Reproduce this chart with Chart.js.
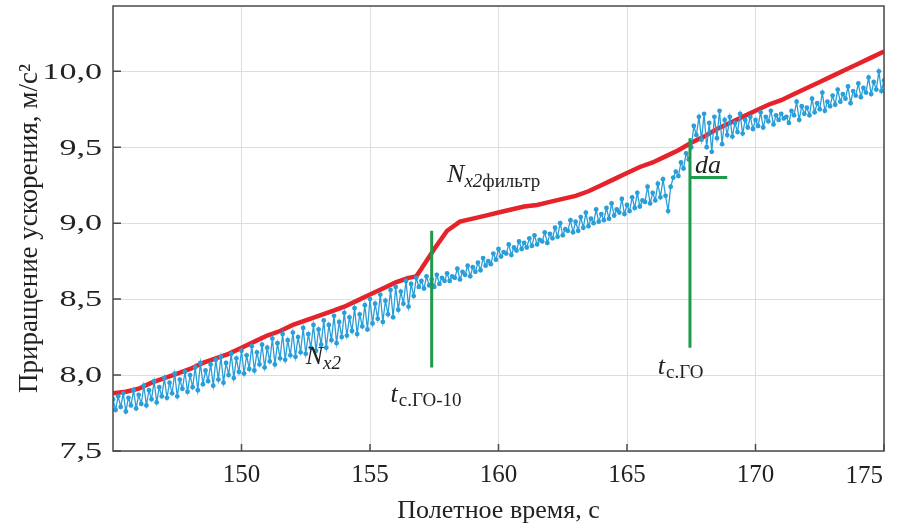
<!DOCTYPE html>
<html>
<head>
<meta charset="utf-8">
<script src="https://cdn.jsdelivr.net/npm/chart.js@4.4.1/dist/chart.umd.min.js"></script>
<style>
  html, body { margin: 0; padding: 0; background: #fff; }
</style>
</head>
<body>
<canvas id="chart" width="898" height="528"></canvas>
<script>
const fontFamily = "'Liberation Serif', 'Times New Roman', serif"

// filtered signal N_x2 фильтр
const filterTime = [
    145.0, 145.5, 146.0, 146.5, 147.0, 147.5, 148.0, 148.5, 149.0, 149.5,
    150.0, 150.5, 151.0, 151.5, 152.0, 152.5, 153.0, 153.5, 154.0, 154.5,
    155.0, 155.5, 156.0, 156.5, 156.8, 157.0, 157.5, 158.0, 158.5, 159.0,
    159.5, 160.0, 160.5, 161.0, 161.5, 162.0, 162.5, 163.0, 163.5, 164.0,
    164.5, 165.0, 165.5, 166.0, 166.5, 167.0, 167.5, 168.0, 168.5, 169.0,
    169.5, 170.0, 170.5, 171.0, 171.5, 172.0, 172.5, 173.0, 173.5, 174.0,
    174.5, 175.0
]
const filterValue = [
    7.88, 7.89, 7.91, 7.95, 7.98, 8.01, 8.04, 8.08, 8.11, 8.14,
    8.18, 8.22, 8.26, 8.29, 8.33, 8.36, 8.39, 8.42, 8.45, 8.49,
    8.53, 8.57, 8.61, 8.64, 8.65, 8.70, 8.83, 8.95, 9.01, 9.03,
    9.05, 9.07, 9.09, 9.11, 9.12, 9.14, 9.16, 9.18, 9.21, 9.25,
    9.29, 9.33, 9.37, 9.40, 9.44, 9.48, 9.53, 9.57, 9.62, 9.66,
    9.70, 9.74, 9.78, 9.81, 9.85, 9.89, 9.93, 9.97, 10.01, 10.05,
    10.09, 10.13
]

// raw signal N_x2, one row per second
const rawTime = [
    145.0, 145.1, 145.2, 145.3, 145.4, 145.5, 145.6, 145.7, 145.8, 145.9,
    146.0, 146.1, 146.2, 146.3, 146.4, 146.5, 146.6, 146.7, 146.8, 146.9,
    147.0, 147.1, 147.2, 147.3, 147.4, 147.5, 147.6, 147.7, 147.8, 147.9,
    148.0, 148.1, 148.2, 148.3, 148.4, 148.5, 148.6, 148.7, 148.8, 148.9,
    149.0, 149.1, 149.2, 149.3, 149.4, 149.5, 149.6, 149.7, 149.8, 149.9,
    150.0, 150.1, 150.2, 150.3, 150.4, 150.5, 150.6, 150.7, 150.8, 150.9,
    151.0, 151.1, 151.2, 151.3, 151.4, 151.5, 151.6, 151.7, 151.8, 151.9,
    152.0, 152.1, 152.2, 152.3, 152.4, 152.5, 152.6, 152.7, 152.8, 152.9,
    153.0, 153.1, 153.2, 153.3, 153.4, 153.5, 153.6, 153.7, 153.8, 153.9,
    154.0, 154.1, 154.2, 154.3, 154.4, 154.5, 154.6, 154.7, 154.8, 154.9,
    155.0, 155.1, 155.2, 155.3, 155.4, 155.5, 155.6, 155.7, 155.8, 155.9,
    156.0, 156.1, 156.2, 156.3, 156.4, 156.5, 156.6, 156.7, 156.8, 156.9,
    157.0, 157.1, 157.2, 157.3, 157.4, 157.5, 157.6, 157.7, 157.8, 157.9,
    158.0, 158.1, 158.2, 158.3, 158.4, 158.5, 158.6, 158.7, 158.8, 158.9,
    159.0, 159.1, 159.2, 159.3, 159.4, 159.5, 159.6, 159.7, 159.8, 159.9,
    160.0, 160.1, 160.2, 160.3, 160.4, 160.5, 160.6, 160.7, 160.8, 160.9,
    161.0, 161.1, 161.2, 161.3, 161.4, 161.5, 161.6, 161.7, 161.8, 161.9,
    162.0, 162.1, 162.2, 162.3, 162.4, 162.5, 162.6, 162.7, 162.8, 162.9,
    163.0, 163.1, 163.2, 163.3, 163.4, 163.5, 163.6, 163.7, 163.8, 163.9,
    164.0, 164.1, 164.2, 164.3, 164.4, 164.5, 164.6, 164.7, 164.8, 164.9,
    165.0, 165.1, 165.2, 165.3, 165.4, 165.5, 165.6, 165.7, 165.8, 165.9,
    166.0, 166.1, 166.2, 166.3, 166.4, 166.5, 166.6, 166.7, 166.8, 166.9,
    167.0, 167.1, 167.2, 167.3, 167.4, 167.5, 167.6, 167.7, 167.8, 167.9,
    168.0, 168.1, 168.2, 168.3, 168.4, 168.5, 168.6, 168.7, 168.8, 168.9,
    169.0, 169.1, 169.2, 169.3, 169.4, 169.5, 169.6, 169.7, 169.8, 169.9,
    170.0, 170.1, 170.2, 170.3, 170.4, 170.5, 170.6, 170.7, 170.8, 170.9,
    171.0, 171.1, 171.2, 171.3, 171.4, 171.5, 171.6, 171.7, 171.8, 171.9,
    172.0, 172.1, 172.2, 172.3, 172.4, 172.5, 172.6, 172.7, 172.8, 172.9,
    173.0, 173.1, 173.2, 173.3, 173.4, 173.5, 173.6, 173.7, 173.8, 173.9,
    174.0, 174.1, 174.2, 174.3, 174.4, 174.5, 174.6, 174.7, 174.8, 174.9,
    175.0
]
const rawValue = [
    7.84, 7.77, 7.86, 7.79, 7.88, 7.76, 7.85, 7.80, 7.90, 7.78,
    7.87, 7.81, 7.93, 7.80, 7.90, 7.84, 7.96, 7.82, 7.92, 7.86,
    7.98, 7.85, 7.95, 7.88, 8.01, 7.86, 7.97, 7.91, 8.02, 7.89,
    8.00, 7.92, 8.05, 7.90, 8.08, 7.94, 8.03, 7.96, 8.07, 7.93,
    8.10, 7.97, 8.12, 7.95, 8.08, 8.00, 8.14, 7.98, 8.11, 8.02,
    8.16, 8.01, 8.13, 8.04, 8.19, 8.03, 8.15, 8.07, 8.20, 8.05,
    8.18, 8.09, 8.24, 8.07, 8.21, 8.11, 8.27, 8.10, 8.23, 8.13,
    8.28, 8.12, 8.25, 8.15, 8.31, 8.14, 8.27, 8.18, 8.33, 8.16,
    8.30, 8.20, 8.36, 8.18, 8.33, 8.23, 8.39, 8.21, 8.35, 8.25,
    8.41, 8.26, 8.38, 8.29, 8.44, 8.27, 8.40, 8.32, 8.46, 8.30,
    8.50, 8.34, 8.47, 8.37, 8.53, 8.35, 8.49, 8.40, 8.56, 8.38,
    8.58, 8.43, 8.55, 8.47, 8.62, 8.45, 8.60, 8.52, 8.64, 8.58,
    8.62, 8.57, 8.65, 8.59, 8.63, 8.58, 8.66, 8.60, 8.64, 8.62,
    8.67, 8.62, 8.65, 8.64, 8.70, 8.63, 8.68, 8.66, 8.72, 8.65,
    8.71, 8.68, 8.74, 8.69, 8.77, 8.72, 8.75, 8.73, 8.80, 8.76,
    8.83, 8.78, 8.81, 8.80, 8.86, 8.79, 8.84, 8.82, 8.88, 8.83,
    8.87, 8.84, 8.90, 8.85, 8.92, 8.86, 8.89, 8.88, 8.94, 8.87,
    8.93, 8.90, 8.97, 8.91, 9.00, 8.92, 8.96, 8.95, 9.02, 8.94,
    9.01, 8.95, 9.04, 8.97, 9.07, 8.98, 9.03, 9.00, 9.09, 9.01,
    9.06, 9.02, 9.10, 9.03, 9.13, 9.05, 9.09, 9.07, 9.16, 9.06,
    9.12, 9.08, 9.17, 9.10, 9.20, 9.11, 9.15, 9.14, 9.24, 9.13,
    9.20, 9.15, 9.26, 9.17, 9.29, 9.18, 9.08, 9.24, 9.30, 9.34,
    9.31, 9.40, 9.36, 9.46, 9.42, 9.50, 9.64, 9.58, 9.70, 9.55,
    9.72, 9.50, 9.66, 9.47, 9.70, 9.56, 9.74, 9.52, 9.68, 9.58,
    9.70, 9.57, 9.66, 9.60, 9.72, 9.59, 9.68, 9.63, 9.70, 9.62,
    9.68, 9.64, 9.73, 9.63, 9.70, 9.67, 9.74, 9.65, 9.71, 9.68,
    9.72, 9.69, 9.70, 9.66, 9.74, 9.71, 9.80, 9.68, 9.77, 9.72,
    9.76, 9.71, 9.82, 9.73, 9.79, 9.75, 9.86, 9.74, 9.80, 9.77,
    9.84, 9.78, 9.88, 9.80, 9.85, 9.82, 9.90, 9.79, 9.87, 9.84,
    9.92, 9.83, 9.89, 9.86, 9.96, 9.85, 9.93, 9.88, 10.00, 9.87,
    9.94
]

const xTickValues = [150, 155, 160, 165, 170, 175]
const yTickValues = [7.5, 8.0, 8.5, 9.0, 9.5, 10.0]

// green markers: t_c.ГО-10, t_c.ГО and da
const markTime10 = [157.4, 157.4]
const markLevel10 = [8.95, 8.05]
const markTime = [167.45, 167.45]
const markLevel = [9.56, 8.18]
const daTime = [167.45, 168.9]
const daLevel = [9.30, 9.30]


function toPoints(xs, ys) {
    return xs.map((x, i) => ({ x: x, y: ys[i] }))
}


function greenLine(xs, ys) {
    return {
        data: toPoints(xs, ys),
        borderColor: '#1e9a4c',
        borderWidth: 3,
        pointRadius: 0,
        borderCapStyle: 'butt'
    }
}


function serif(size, italic) {
    return (italic ? 'italic ' : '') + size + 'px ' + fontFamily
}


function commaLabel(v) {
    return v.toFixed(1).replace('.', ',')
}

// text pieces drawn left to right, position in data units
const notes = [
    { x: 158.0, y: 9.27, parts: [
        { text: 'N', font: serif(26, true) },
        { text: 'x2', font: serif(19, true), dy: 5 },
        { text: 'фильтр', font: serif(19, false), dy: 5 }
    ] },
    { x: 152.5, y: 8.07, parts: [
        { text: 'N', font: serif(26, true) },
        { text: 'x2', font: serif(19, true), dy: 5 }
    ] },
    { x: 155.8, y: 7.82, parts: [
        { text: 't', font: serif(26, true) },
        { text: 'с.ГО-10', font: serif(19, false), dy: 4, gap: 1 }
    ] },
    { x: 166.2, y: 8.01, parts: [
        { text: 't', font: serif(26, true) },
        { text: 'с.ГО', font: serif(19, false), dy: 4, gap: 1 }
    ] },
    { x: 167.65, y: 9.33, parts: [
        { text: 'da', font: serif(26, true) }
    ] }
]


function drawRich(ctx, px, py, parts) {
    let cx = px
    parts.forEach(p => {
        ctx.font = p.font
        cx += p.gap || 0
        ctx.fillText(p.text, cx, py + (p.dy || 0))
        cx += ctx.measureText(p.text).width
    })
}


const framePlugin = {
    id: 'frame',
    afterDraw(chart) {
        const ctx = chart.ctx
        const a = chart.chartArea
        const sx = chart.scales.x
        const sy = chart.scales.y

        ctx.save()
        ctx.strokeStyle = '#4a4a4a'
        ctx.lineWidth = 1.5
        ctx.strokeRect(a.left, a.top, a.right - a.left, a.bottom - a.top)

        ctx.beginPath()
        xTickValues.forEach(v => {
            const px = sx.getPixelForValue(v)
            ctx.moveTo(px, a.bottom)
            ctx.lineTo(px, a.bottom - 7)
        })
        yTickValues.forEach(v => {
            const py = sy.getPixelForValue(v)
            ctx.moveTo(a.left, py)
            ctx.lineTo(a.left + 8, py)
        })
        ctx.stroke()

        ctx.fillStyle = '#222'

        // y tick labels, a little wider than the font like in the original
        ctx.font = serif(24, false)
        ctx.textAlign = 'right'
        ctx.textBaseline = 'middle'
        yTickValues.forEach(v => {
            ctx.save()
            ctx.translate(a.left - 11, sy.getPixelForValue(v) + 1)
            ctx.scale(1.42, 1)
            ctx.fillText(commaLabel(v), 0, 0)
            ctx.restore()
        })

        // last x label sits inside the right edge
        ctx.font = serif(25, false)
        ctx.textAlign = 'right'
        ctx.textBaseline = 'top'
        ctx.fillText(String(xTickValues[xTickValues.length - 1]), a.right - 1, a.bottom + 13)

        ctx.textAlign = 'left'
        ctx.textBaseline = 'alphabetic'
        notes.forEach(n => {
            drawRich(ctx, sx.getPixelForValue(n.x), sy.getPixelForValue(n.y), n.parts)
        })
        ctx.restore()
    }
}


new Chart(document.getElementById('chart'), {
    type: 'line',
    data: {
        datasets: [
            greenLine(markTime10, markLevel10),
            greenLine(markTime, markLevel),
            greenLine(daTime, daLevel),
            {
                label: 'Nx2',
                data: toPoints(rawTime, rawValue),
                borderColor: '#2a9ed8',
                backgroundColor: '#2a9ed8',
                borderWidth: 1.3,
                pointRadius: 2.4,
                pointBorderWidth: 0,
                pointBackgroundColor: '#2a9ed8'
            },
            {
                label: 'Nx2 фильтр',
                data: toPoints(filterTime, filterValue),
                borderColor: '#e6232b',
                borderWidth: 4.5,
                pointRadius: 0
            }
        ]
    },
    options: {
        responsive: false,
        animation: false,
        layout: { padding: { top: 6, left: 0, right: 0, bottom: 0 } },
        plugins: {
            legend: { display: false },
            tooltip: { enabled: false }
        },
        scales: {
            x: {
                type: 'linear',
                min: 145,
                max: 175,
                afterBuildTicks: s => { s.ticks = xTickValues.map(v => ({ value: v })) },
                afterFit: s => { s.height = 77; s.paddingRight = 14; s.paddingLeft = 0 },
                grid: { color: '#dddddd', lineWidth: 1, drawTicks: false },
                border: { display: false },
                ticks: {
                    font: { family: fontFamily, size: 25 },
                    color: '#222',
                    padding: 9,
                    maxRotation: 0,
                    callback: v => v === xTickValues[xTickValues.length - 1] ? '' : String(v)
                },
                title: {
                    display: true,
                    text: 'Полетное время, с',
                    font: { family: fontFamily, size: 26 },
                    color: '#222',
                    padding: { top: 4, bottom: 1 }
                }
            },
            y: {
                type: 'linear',
                min: 7.5,
                max: 10.43,
                afterBuildTicks: s => { s.ticks = yTickValues.map(v => ({ value: v })) },
                afterFit: s => { s.width = 113; s.paddingTop = 0; s.paddingBottom = 0 },
                grid: { color: '#dddddd', lineWidth: 1, drawTicks: false },
                border: { display: false },
                ticks: { display: false },
                title: {
                    display: true,
                    text: 'Приращение ускорения, м/с²',
                    font: { family: fontFamily, size: 27 },
                    color: '#222',
                    padding: { top: 14, bottom: 0 }
                }
            }
        }
    },
    plugins: [framePlugin]
})
</script>
</body>
</html>
